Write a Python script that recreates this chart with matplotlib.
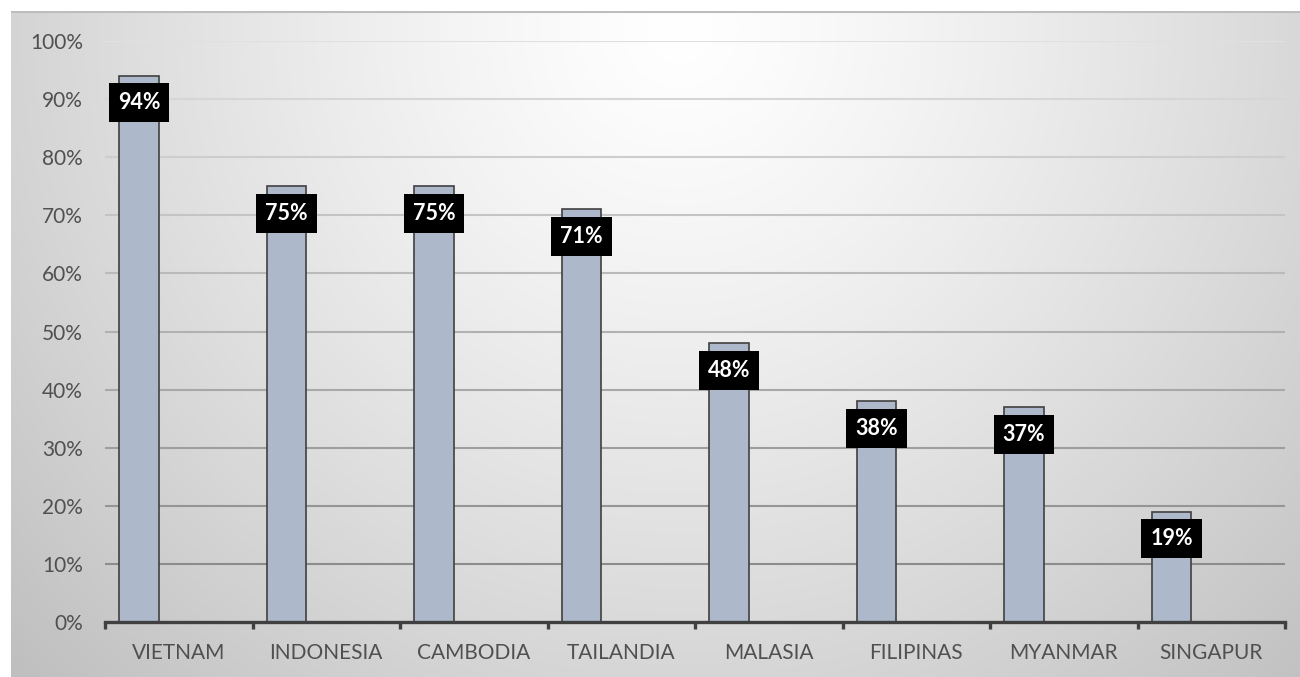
import matplotlib
matplotlib.use('Agg')
import matplotlib.pyplot as plt
import numpy as np

countries = ['VIETNAM', 'INDONESIA', 'CAMBODIA', 'TAILANDIA', 'MALASIA',
             'FILIPINAS', 'MYANMAR', 'SINGAPUR']
values = [94, 75, 75, 71, 48, 38, 37, 19]
y_ticks = [0, 10, 20, 30, 40, 50, 60, 70, 80, 90, 100]

plt.rcParams['font.family'] = ['Lato', 'DejaVu Sans']

W, H = 1300, 677
fig = plt.figure(figsize=(W / 100, H / 100), dpi=100)
fig.patch.set_facecolor('white')

# radial gradient background (white at top centre, grey towards the corners)
bx0, by0 = 11, 11
bg = fig.add_axes([bx0 / W, 0, (W - bx0) / W, (H - by0) / H], zorder=-10)
xx, yy = np.meshgrid(np.arange(bx0, W), np.arange(by0, H))
d = np.hypot(xx - 680, (yy - 30) * 1.0)
shade = 255 - 62 * (d / 900) ** 1.25
shade = np.clip(shade, 190, 255) / 255
bg.imshow(np.dstack([shade] * 3), aspect='auto', interpolation='bilinear')
bg.axhline(0, color='#bdbdbd', lw=1.5)
bg.set_axis_off()

ax = fig.add_axes([105 / W, (H - 622) / H, (1285 - 105) / W, (622 - 41) / H])
ax.set_facecolor('none')
ax.set_xlim(-0.5, len(countries) - 0.5)
ax.set_ylim(0, 100)

# gridlines get darker towards the bottom, like the original
for t in y_ticks[1:]:
    f = (t - 10) / 90
    g = 0x8c + f * (0xe0 - 0x8c)
    c = '#%02x%02x%02x' % (int(g), int(g), int(g))
    ax.axhline(t, color=c, lw=1.5, zorder=0)

x = np.arange(len(countries))
w = 0.27
ax.bar(x - w, values, width=w, color='#adb9ca', edgecolor='#404040',
       linewidth=1.2, zorder=2)

for xi, v in zip(x, values):
    ax.annotate(f'{v}%', (xi - w, v), xytext=(0, -19.5), textcoords='offset points',
                ha='center', va='center', color='white', fontsize=15.5,
                fontweight='bold', zorder=3,
                bbox=dict(boxstyle='square,pad=0.42', fc='black', ec='none'))

for s in ['top', 'right', 'left']:
    ax.spines[s].set_visible(False)
ax.spines['bottom'].set_color('#404040')
ax.spines['bottom'].set_linewidth(2.4)
ax.spines['bottom'].set_zorder(4)

ax.set_yticks(y_ticks)
ax.set_yticklabels([f'{t}%' for t in y_ticks])
ax.tick_params(axis='y', length=0, pad=16, labelsize=15, labelcolor='#505050')

ax.set_xticks(x)
ax.set_xticklabels(countries)
ax.set_xticks(np.arange(len(countries) + 1) - 0.5, minor=True)
ax.tick_params(axis='x', which='major', length=0, pad=15, labelsize=15,
               labelcolor='#505050')
ax.tick_params(axis='x', which='minor', length=5, width=2.4, color='#404040')

plt.savefig('out.png', dpi=100)
